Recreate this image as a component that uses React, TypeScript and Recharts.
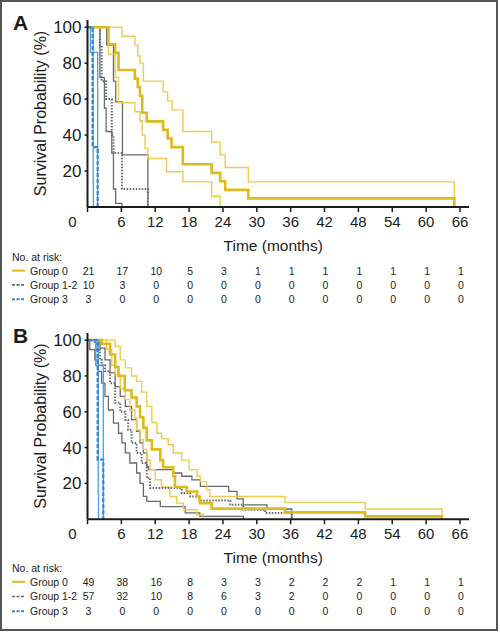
import { LineChart, Line, XAxis, YAxis } from 'recharts';

type Pt = [number, number];

const months = [0, 6, 12, 18, 24, 30, 36, 42, 48, 54, 60, 66];
const pctTicks = [20, 40, 60, 80, 100];
const groups = ['Group 0', 'Group 1-2', 'Group 3'];

// panel A: [month, survival %]
const aGroup0: Pt[] = [[0, 100], [3.7, 90.5], [4.9, 85.7], [5.5, 76.2], [8.4, 71.4], [8.9, 66.7], [9.3, 61.9], [9.7, 52.4], [10.5, 47.6], [13.4, 42.9], [14.2, 38.1], [14.9, 33.3], [16.9, 23.8], [22.0, 19.0], [23.5, 14.3], [24.4, 9.5], [28.5, 4.8], [65.0, 0]];
const aGroup0Hi: Pt[] = [[0, 100], [6.1, 95], [8.4, 90], [8.9, 84], [9.3, 80], [9.9, 70], [13.4, 64], [14.2, 59], [15.0, 54], [16.9, 42], [22.0, 36], [23.5, 29], [24.4, 22], [28.5, 14], [65.0, 4.8]];
const aGroup0Lo: Pt[] = [[0, 100], [3.7, 85], [4.9, 72], [5.5, 58], [8.4, 53], [9.3, 48], [9.7, 40], [10.2, 32.6], [10.7, 27], [14.0, 19.6], [16.9, 14], [22.0, 6], [23.5, 0]];
const aGroup12: Pt[] = [[0, 100], [2.2, 90], [2.5, 70], [3.3, 60], [4.3, 40], [4.6, 30], [6.1, 10], [10.7, 0]];
const aGroup12Hi: Pt[] = [[0, 100], [3.4, 90], [4.6, 70], [5.0, 58.5], [6.2, 29], [10.7, 0]];
const aGroup12Lo: Pt[] = [[0, 100], [2.2, 72], [3.0, 55], [3.3, 42], [4.3, 30], [4.6, 10], [5.0, 2], [6.1, 0]];
const aGroup3: Pt[] = [[0, 100], [0.9, 33.3], [1.8, 0]];
const aGroup3Hi: Pt[] = [[0, 100], [0.5, 86], [1.8, 0]];
const aGroup3Lo: Pt[] = [[0, 100], [1.0, 14], [1.05, 0]];
const aRisk0 = [21, 17, 10, 5, 3, 1, 1, 1, 1, 1, 1, 1];
const aRisk12 = [10, 3, 0, 0, 0, 0, 0, 0, 0, 0, 0, 0];
const aRisk3 = [3, 0, 0, 0, 0, 0, 0, 0, 0, 0, 0, 0];

// panel B
const bGroup0: Pt[] = [[0, 100], [2.5, 98], [4.0, 92], [4.9, 85], [5.5, 80], [6.6, 72], [7.8, 68], [8.7, 63], [9.3, 57], [9.9, 51], [10.5, 44], [11.4, 39], [12.9, 33], [13.4, 29], [15.2, 24], [15.5, 18], [17.6, 15.5], [19.4, 12.7], [19.9, 9], [22.0, 5.9], [35.0, 3.8], [49.2, 1.6], [62.8, 0]];
const bGroup0Hi: Pt[] = [[0, 100], [4.9, 96.5], [5.8, 89], [6.7, 84.5], [7.8, 80], [8.7, 77], [9.6, 71], [10.5, 63], [11.4, 54], [12.3, 48], [13.1, 45], [14.3, 41.6], [15.2, 37], [16.7, 33], [18.0, 27.7], [19.4, 24], [20.0, 21], [21.1, 16.5], [21.7, 12.7], [35.0, 9.4], [49.2, 5.7], [62.8, 0]];
const bGroup0Lo: Pt[] = [[0, 100], [3.4, 94.7], [4.3, 86], [4.9, 80.7], [5.8, 73], [6.7, 66.8], [7.5, 61], [8.4, 56.5], [8.7, 50], [9.3, 44.4], [9.9, 39], [10.5, 33], [11.1, 27.7], [12.0, 22], [13.1, 18], [14.6, 12.7], [15.8, 9], [17.0, 5.3], [19.4, 2.5], [20.5, 0]];
const bGroup12: Pt[] = [[0, 100], [1.3, 99], [1.6, 94.7], [2.2, 89], [2.5, 86], [3.1, 82.6], [4.0, 76], [4.9, 65], [5.8, 60], [6.7, 55.6], [7.2, 50], [7.8, 42.6], [8.7, 37], [9.6, 31.4], [10.5, 23], [11.1, 17.4], [16.7, 14.6], [18.2, 12.7], [19.9, 10.5], [25.3, 8], [27.6, 5.3], [31.5, 3.5], [36.2, 0]];
const bGroup12Hi: Pt[] = [[0, 100], [2.2, 95.6], [3.1, 89], [4.0, 81.7], [4.9, 74], [5.8, 68.6], [6.7, 63], [7.8, 55.6], [8.7, 49], [9.3, 42.6], [9.9, 37], [10.5, 29.5], [10.8, 27.7], [15.2, 25.8], [16.7, 24], [18.5, 22], [20.0, 18.3], [25.0, 15.5], [26.5, 11.3], [27.6, 8], [31.8, 5.7], [36.2, 0]];
const bGroup12Lo: Pt[] = [[0, 100], [0.4, 94.7], [1.3, 89], [1.9, 82.6], [2.5, 76], [3.1, 68.6], [3.7, 61], [4.6, 53.7], [5.5, 48], [6.1, 42.6], [6.7, 37], [7.5, 31.4], [8.7, 25.8], [9.3, 20], [9.9, 12.7], [10.5, 10], [12.9, 7], [17.3, 3.5], [19.9, 1.6], [27.6, 0]];
const bGroup3: Pt[] = [[0, 100], [1.8, 33.3], [2.8, 0]];
const bGroup3Hi: Pt[] = [[0, 100], [1.45, 86], [2.8, 0]];
const bGroup3Lo: Pt[] = [[0, 100], [1.9, 14], [1.95, 0]];
const bRisk0 = [49, 38, 16, 8, 3, 3, 2, 2, 2, 1, 1, 1];
const bRisk12 = [57, 32, 10, 8, 6, 3, 2, 0, 0, 0, 0, 0];
const bRisk3 = [3, 0, 0, 0, 0, 0, 0, 0, 0, 0, 0, 0];

const FONT = '"Liberation Sans", Arial, sans-serif';
const INK = '#1c1c1c';
const GOLD = '#E0B91B';
const GOLD_CI = '#EBCB50';
const GREY = '#6A6A6A';
const BLUE = '#2E86D6';
const BLUE_CI = '#4D9CE3';

type Curve = { data: Pt[]; color: string; width: number; dash?: string };

const curvesFor = (g0: Pt[], g0hi: Pt[], g0lo: Pt[], g12: Pt[], g12hi: Pt[], g12lo: Pt[], g3: Pt[], g3hi: Pt[], g3lo: Pt[]): Curve[] => [
  { data: g12hi, color: GREY, width: 1.3 },
  { data: g12lo, color: GREY, width: 1.3 },
  { data: g0hi, color: GOLD_CI, width: 1.4 },
  { data: g0lo, color: GOLD_CI, width: 1.4 },
  { data: g12, color: GREY, width: 2, dash: '1.5 1.5' },
  { data: g0, color: GOLD, width: 2.6 },
  { data: g3hi, color: BLUE_CI, width: 1.3 },
  { data: g3lo, color: BLUE_CI, width: 1.3 },
  { data: g3, color: BLUE, width: 2.2, dash: '4 2' },
];

const legendStyle = [
  { stroke: GOLD, dash: undefined, w: 2 },
  { stroke: GREY, dash: '3 1.5', w: 1.6 },
  { stroke: BLUE, dash: '3 1.5', w: 2 },
];

const pts = (a: Pt[]) => a.map(([t, s]) => ({ t, s }));

const TimeTick = (p: any) => {
  const v = p.payload.value;
  return (
    <text x={v === 0 ? p.x - 15 : p.x} y={p.y + 11} textAnchor="middle" fontSize={15} fontFamily={FONT} fill={INK}>
      {v}
    </text>
  );
};

const PctTick = (p: any) => (
  <text x={p.x - 3} y={p.y + 6} textAnchor="end" fontSize={17} fontFamily={FONT} fill={INK}>
    {p.payload.value}
  </text>
);

const riskTick = (counts: number[], row: number) => (p: any) => {
  const i = months.indexOf(p.payload.value);
  const base = p.y + 11;
  const ls = legendStyle[row];
  return (
    <g fontFamily={FONT} fontSize={10.5} fill={INK}>
      {i === 0 && row === 0 && <text x={12} y={base - 14}>No. at risk:</text>}
      {i === 0 && <line x1={12} x2={25} y1={base - 4} y2={base - 4} stroke={ls.stroke} strokeWidth={ls.w} strokeDasharray={ls.dash} />}
      {i === 0 && <text x={30} y={base}>{groups[row]}</text>}
      <text x={p.x + 1} y={base} textAnchor="middle">{counts[i]}</text>
    </g>
  );
};

type PanelProps = { letter: string; curves: Curve[]; risk: number[][]; plotH: number; axisH: number; rowH: number };

function Panel({ letter, curves, risk, plotH, axisH, rowH }: PanelProps) {
  const height = 20 + plotH + axisH + rowH * 3 + 4;
  return (
    <LineChart width={500} height={height} margin={{ top: 20, right: 31, left: 0, bottom: 4 }} style={{ fontFamily: FONT }}>
      <XAxis
        dataKey="t"
        type="number"
        domain={[0, 67.6]}
        allowDataOverflow
        ticks={months}
        interval={0}
        height={axisH}
        tickSize={5}
        tickMargin={4}
        axisLine={{ stroke: INK, strokeWidth: 2 }}
        tickLine={{ stroke: INK, strokeWidth: 1.5 }}
        tick={TimeTick}
        label={(lp: any) => {
          const vb = lp.viewBox;
          return (
            <text x={vb.x + vb.width / 2 - 5} y={vb.y + 44} textAnchor="middle" fontSize={15.5} fontFamily={FONT} fill={INK}>
              Time (months)
            </text>
          );
        }}
      />
      {risk.map((counts, r) => (
        <XAxis
          key={r}
          xAxisId={`r${r}`}
          dataKey="t"
          type="number"
          domain={[0, 67.6]}
          allowDataOverflow
          ticks={months}
          interval={0}
          height={rowH}
          tickSize={0}
          tickMargin={0}
          axisLine={false}
          tickLine={false}
          tick={riskTick(counts, r)}
        />
      ))}
      <YAxis
        type="number"
        domain={[0, 104]}
        allowDataOverflow
        ticks={pctTicks}
        interval={0}
        width={87.5}
        tickSize={3}
        tickMargin={0}
        axisLine={{ stroke: INK, strokeWidth: 2 }}
        tickLine={{ stroke: INK, strokeWidth: 1.5 }}
        tick={PctTick}
        label={(lp: any) => {
          const vb = lp.viewBox;
          const cy = vb.y + vb.height / 2;
          return (
            <g fontFamily={FONT} fill={INK}>
              <text x={13} y={vb.y + 10} fontSize={21} fontWeight="bold">{letter}</text>
              <text transform={`translate(40, ${cy}) rotate(-90)`} textAnchor="middle" dominantBaseline="central" fontSize={16}>
                Survival Probability (%)
              </text>
            </g>
          );
        }}
      />
      {curves.map((c, i) => (
        <Line
          key={i}
          data={pts(c.data)}
          dataKey="s"
          type="stepAfter"
          stroke={c.color}
          strokeWidth={c.width}
          strokeDasharray={c.dash}
          dot={false}
          activeDot={false}
          isAnimationActive={false}
        />
      ))}
    </LineChart>
  );
}

export default function App() {
  const curvesA = curvesFor(aGroup0, aGroup0Hi, aGroup0Lo, aGroup12, aGroup12Hi, aGroup12Lo, aGroup3, aGroup3Hi, aGroup3Lo);
  const curvesB = curvesFor(bGroup0, bGroup0Hi, bGroup0Lo, bGroup12, bGroup12Hi, bGroup12Lo, bGroup3, bGroup3Hi, bGroup3Lo);
  return (
    <div style={{ position: 'absolute', left: 0, top: 0, width: 500, height: 632, background: '#fff', overflow: 'hidden' }}>
      <div style={{ position: 'absolute', left: 0, top: 0, width: 498, height: 631, border: '2px solid #555', boxSizing: 'border-box' }} />
      <div style={{ position: 'absolute', left: 0, top: 0 }}>
        <Panel letter="A" curves={curvesA} risk={[aRisk0, aRisk12, aRisk3]} plotH={187} axisH={56.6} rowH={14.3} />
      </div>
      <div style={{ position: 'absolute', left: 0, top: 313.3 }}>
        <Panel letter="B" curves={curvesB} risk={[bRisk0, bRisk12, bRisk3]} plotH={186.2} axisH={55.6} rowH={14.7} />
      </div>
    </div>
  );
}
